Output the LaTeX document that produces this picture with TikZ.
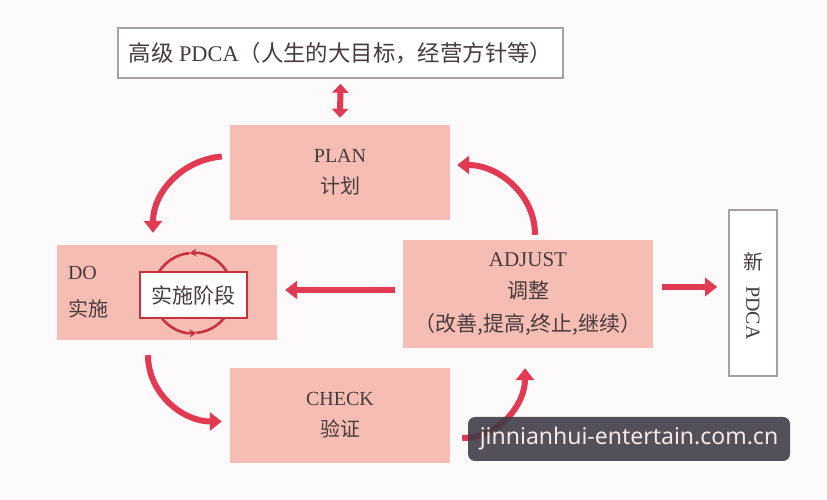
\documentclass[tikz,border=0pt]{standalone}
\usepackage{fontspec}
\setmainfont{Liberation Serif}
\newfontfamily\cjk{Noto Sans CJK SC}
\newfontfamily\wmfont{Noto Sans}
\usetikzlibrary{arrows.meta,calc}
\definecolor{paper}{HTML}{FCFAFB}
\definecolor{salmon}{HTML}{F6BDB4}
\definecolor{flowred}{HTML}{E23A52}
\definecolor{turnred}{HTML}{C8323F}
\definecolor{ink}{HTML}{463B3D}
\definecolor{frame}{HTML}{A3A1A2}
\definecolor{wmdark}{HTML}{3D3944}
\definecolor{wmtext}{HTML}{F6E8E8}
\newcommand{\titlesz}{\fontsize{22.4}{26}\selectfont}
\newcommand{\plansz}{\fontsize{20}{31}\selectfont}
\newcommand{\adjsz}{\fontsize{21}{32.5}\selectfont}
\newcommand{\dosz}{\fontsize{20}{37}\selectfont}
\newcommand{\stagesz}{\fontsize{21}{24}\selectfont}
\newcommand{\wmsz}{\wmfont\fontsize{23}{26}\selectfont}

\begin{document}
\begin{tikzpicture}[x=1pt,y=1pt,font=\plansz,text=ink,
  pinkbox/.style={fill=salmon,inner sep=0,minimum width=220pt,minimum height=95pt,align=center},
  greybox/.style={draw=frame,line width=1.6pt,fill=white,inner sep=0},
  flow/.style={flowred,line width=6pt,-{Triangle[length=12pt,width=18pt]}},
  turn/.style={turnred,line width=2.6pt}]
\fill[paper] (0,0) rectangle (827,500);
\node[greybox,minimum width=445pt,minimum height=50pt,font=\titlesz] (goal) at (340.5,447) {{\cjk 高级} PDCA{\cjk （人生的大目标，经营方针等）}};
\node[pinkbox] (plan) at (340,327.5) {PLAN\\{\cjk 计划}};
\node[pinkbox] (do) at (167,207.5) {};
\node[anchor=west,inner sep=0,align=left,font=\dosz] (dolabel) at ([xshift=11pt]do.west) {DO\\{\cjk 实施}};
\node[pinkbox,minimum width=250pt,minimum height=108pt,font=\adjsz] (adjust) at (528,206) {ADJUST\\{\cjk 调整}\\{\cjk （改善,提高,终止,继续）}};
\node[pinkbox] (check) at (340,84.5) {CHECK\\{\cjk 验证}};
\node[greybox,minimum width=48pt,minimum height=166pt] (new) at (753,207) {};
\node[inner sep=0,font=\dosz] (newzh) at ($(new)+(0,31)$) {\cjk 新};
\node[inner sep=0,rotate=-90,font=\plansz] (newen) at ($(new)+(0,-20)$) {PDCA};
\coordinate (hub) at (193,207);
\draw[turn,-{Stealth[length=7pt,width=8pt]}] ($(hub)+(25:40)$) arc[start angle=25,end angle=95,radius=40];
\draw[turn] ($(hub)+(95:40)$) arc[start angle=95,end angle=155,radius=40];
\draw[turn,-{Stealth[length=7pt,width=8pt]}] ($(hub)+(205:40)$) arc[start angle=205,end angle=275,radius=40];
\draw[turn] ($(hub)+(275:40)$) arc[start angle=275,end angle=335,radius=40];
\node[draw=turnred,line width=2pt,fill=white,minimum width=107pt,minimum height=46pt,inner sep=0,font=\stagesz] (stage) at (193.5,205) {\cjk 实施阶段};
\draw[flowred,line width=6pt,{Triangle[length=9pt,width=16pt]}-{Triangle[length=9pt,width=16pt]}] ($(goal.south)+(0,-5)$) -- ($(plan.north)+(0,7)$);
\draw[flow] ($(plan.west)+(-8,16)$) to[out=185,in=90] ($(do.north)+(-14,12)$);
\draw[flow] ($(do.south)+(-19,-15)$) to[out=-90,in=180] ($(check.west)+(-8,-6)$);
\draw[flow] ($(check.east)+(12,-22.5)$) to[out=0,in=-90] ($(adjust.south)+(-3,-20)$);
\draw[flow] ($(adjust.north)+(7,5)$) to[out=90,in=0] ($(plan.east)+(7,7.5)$);
\draw[flow] ($(adjust.west)+(-8,4)$) -- ($(do.east |- adjust.west)+(8,4)$);
\draw[flow] ($(adjust.east)+(9,7)$) -- ($(new.west |- adjust.east)+(-11,7)$);
\node[fill=wmdark,fill opacity=0.88,text opacity=1,rounded corners=7pt,minimum width=322pt,minimum height=44pt,inner sep=0,text=wmtext,font=\wmsz] (mark) at (629,61) {jinnianhui-entertain.com.cn};
\end{tikzpicture}
\end{document}
